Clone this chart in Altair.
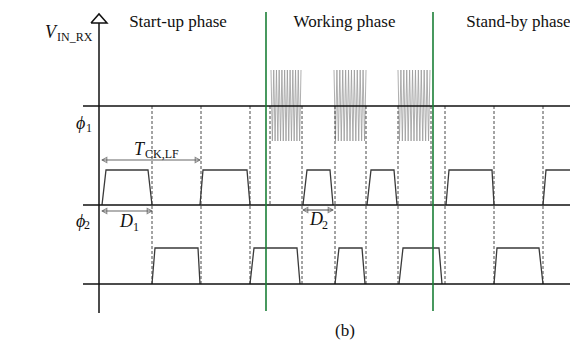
import altair as alt
import pandas as pd

# ---- values (pixel-like diagram units) ----
grid_y = [106, 205, 284]            # horizontal rails
rail_x = [83, 578]
axis_x = 99
axis_y = [23, 313]
arrow_pts = [(91, 23), (99, 14), (107, 23), (91, 23)]
phase_x = [266, 433]                 # green phase boundaries
phase_y = [12, 311]

dash_full = [152, 201, 250, 302, 335, 366, 398, 445, 494, 543]
dash_half = [270, 431]

phi1_top, phi1_base = 170, 205
phi1_pulses = [[102, 106, 148, 152], [200, 203, 247, 250], [303, 307, 330, 333],
               [367, 371, 394, 397], [446, 449, 492, 494], [543, 546, 578, 578]]
phi2_top, phi2_base = 248, 284
phi2_pulses = [[152, 155, 198, 200], [250, 254, 297, 300], [335, 339, 362, 365],
               [399, 403, 439, 442], [494, 497, 539, 543]]

bursts = [[271, 301], [334, 366], [398, 430]]
burst_y = [70, 141]
burst_cycles = 11

dim_arrows = [[102, 200, 160], [102, 152, 211], [303, 333, 210]]

phase_titles = ["Start-up phase", "Working phase", "Stand-by phase"]
phase_title_x = [178, 344.5, 518.5]
phase_title_y = 27

italic_labels = ["V", "ϕ", "ϕ", "T", "D", "D"]
italic_x = [45, 76, 76, 134, 120, 310]
italic_y = [38, 129, 227, 155, 227, 225]
sub_labels = ["IN_RX", "1", "2", "CK,LF", "1", "2"]
sub_x = [57, 86, 84, 145, 133, 322]
sub_y = [41, 132, 229, 158, 231, 229]

caption = "(b)"
caption_x, caption_y = 345, 336

# ---- build tables ----
def seg_rows(rows, sid, pts, kind):
    for i, (x, y) in enumerate(pts):
        rows.append({"id": sid, "o": i, "x": x, "y": y, "kind": kind})

rows = []
n = 0
for gy in grid_y:
    seg_rows(rows, f"g{n}", [(rail_x[0], gy), (rail_x[1], gy)], "black"); n += 1
seg_rows(rows, "axis", [(axis_x, axis_y[0]), (axis_x, axis_y[1])], "black")
seg_rows(rows, "arrowhead", arrow_pts, "black")
for k, p in enumerate(phi1_pulses):
    seg_rows(rows, f"p1_{k}", [(p[0], phi1_base), (p[1], phi1_top), (p[2], phi1_top), (p[3], phi1_base)], "pulse")
for k, p in enumerate(phi2_pulses):
    seg_rows(rows, f"p2_{k}", [(p[0], phi2_base), (p[1], phi2_top), (p[2], phi2_top), (p[3], phi2_base)], "pulse")
for k, dx in enumerate(dash_full):
    seg_rows(rows, f"df{k}", [(dx, grid_y[0]), (dx, grid_y[2])], "dash")
for k, dx in enumerate(dash_half):
    seg_rows(rows, f"dh{k}", [(dx, grid_y[0]), (dx, grid_y[1])], "dash")
for k, gx in enumerate(phase_x):
    seg_rows(rows, f"ph{k}", [(gx, phase_y[0]), (gx, phase_y[1])], "green")
for k, (a, b) in enumerate(bursts):
    pts = []
    steps = burst_cycles * 2
    for i in range(steps + 1):
        pts.append((a + (b - a) * i / steps, burst_y[i % 2]))
    seg_rows(rows, f"b{k}", pts, "burst")
for k, (a, b, yy) in enumerate(dim_arrows):
    seg_rows(rows, f"da{k}", [(a, yy), (b, yy)], "dim")

df = pd.DataFrame(rows)

heads = []
for a, b, yy in dim_arrows:
    heads.append({"x": a + 2.5, "y": yy, "shape": "triangle-left"})
    heads.append({"x": b - 2.5, "y": yy, "shape": "triangle-right"})
hdf = pd.DataFrame(heads)

tdf = pd.DataFrame({"t": phase_titles, "x": phase_title_x, "y": [phase_title_y] * 3})
idf = pd.DataFrame({"t": italic_labels, "x": italic_x, "y": italic_y})
sdf = pd.DataFrame({"t": sub_labels, "x": sub_x, "y": sub_y})
cdf = pd.DataFrame({"t": [caption], "x": [caption_x], "y": [caption_y]})

xs = alt.Scale(domain=[8, 570], nice=False, zero=False)
ys = alt.Scale(domain=[341, 8], nice=False, zero=False)
X = alt.X("x:Q", scale=xs, axis=None)
Y = alt.Y("y:Q", scale=ys, axis=None)

def lines(kind, **style):
    return alt.Chart(df[df.kind == kind]).mark_line(**style).encode(
        x=X, y=Y, detail="id:N", order="o:Q")

layers = [
    lines("burst", color="#9a9a9a", strokeWidth=0.8),
    lines("dash", color="#333333", strokeWidth=0.9, strokeDash=[3, 2]),
    lines("pulse", color="#3a3a3a", strokeWidth=1.3),
    lines("black", color="#111111", strokeWidth=1.5),
    lines("green", color="#1b7f36", strokeWidth=1.6),
    lines("dim", color="#666666", strokeWidth=1.2),
    alt.Chart(hdf).mark_point(filled=False, color="#555555", size=28, strokeWidth=1.1).encode(
        x=X, y=Y, shape=alt.Shape("shape:N", scale=None)),
    alt.Chart(tdf).mark_text(font="Liberation Serif", fontSize=17, align="center",
                             baseline="alphabetic", color="#111111").encode(x=X, y=Y, text="t:N"),
    alt.Chart(idf).mark_text(font="Liberation Serif", fontSize=18, fontStyle="italic", align="left",
                             baseline="alphabetic", color="#111111").encode(x=X, y=Y, text="t:N"),
    alt.Chart(sdf).mark_text(font="Liberation Serif", fontSize=12, align="left",
                             baseline="alphabetic", color="#111111").encode(x=X, y=Y, text="t:N"),
    alt.Chart(cdf).mark_text(font="Liberation Serif", fontSize=17, align="center",
                             baseline="alphabetic", color="#111111").encode(x=X, y=Y, text="t:N"),
]

chart = alt.layer(*layers).properties(
    width=562, height=333, padding=0, background="white",
    autosize=alt.AutoSizeParams(type="none")
).configure_view(stroke=None)

chart.save("out.html", embed_options={"renderer": "svg", "actions": False})
